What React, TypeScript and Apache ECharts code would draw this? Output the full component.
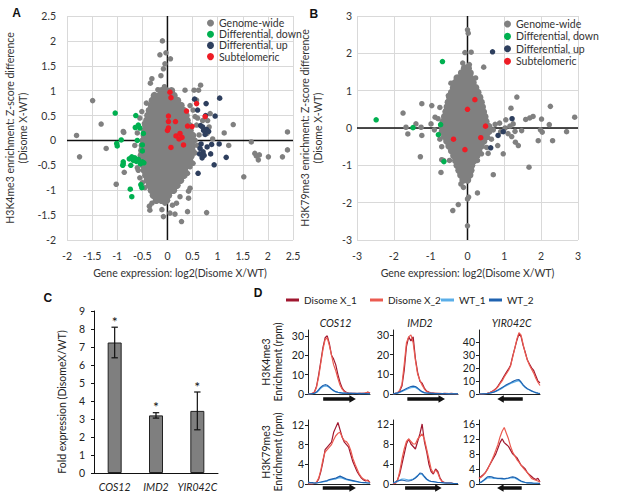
import React, { useEffect, useRef } from "react";
import * as echarts from "echarts";

const FONT = "Lato, 'Liberation Sans', sans-serif";

// ---------------- Panel A : H3K4me3 ----------------
const aXMin = -2;
const aXMax = 2.5;
const aYMin = -2;
const aYMax = 2.5;
// dense genome-wide core, one row per y level: [y, x values]
const aCoreRows: [number, number[]][] = [
  [1.0, [-0.12, -0.02, 0.08]],
  [0.9, [-0.26, -0.16, -0.06, 0.04, 0.13]],
  [0.8, [-0.3, -0.2, -0.1, 0, 0.1, 0.2]],
  [0.7, [-0.32, -0.22, -0.12, -0.02, 0.08, 0.18, 0.27]],
  [0.6, [-0.36, -0.26, -0.16, -0.06, 0.04, 0.14, 0.24, 0.32]],
  [0.5, [-0.39, -0.29, -0.19, -0.09, 0.01, 0.11, 0.21, 0.31, 0.37]],
  [0.4, [-0.41, -0.31, -0.21, -0.11, -0.01, 0.09, 0.19, 0.29, 0.39]],
  [0.3, [-0.43, -0.33, -0.23, -0.13, -0.03, 0.07, 0.17, 0.27, 0.37, 0.43]],
  [0.2, [-0.45, -0.35, -0.25, -0.15, -0.05, 0.05, 0.15, 0.25, 0.35, 0.45]],
  [0.1, [-0.46, -0.36, -0.26, -0.16, -0.06, 0.04, 0.14, 0.24, 0.34, 0.44, 0.5]],
  [0.0, [-0.48, -0.38, -0.28, -0.18, -0.08, 0.02, 0.12, 0.22, 0.32, 0.42, 0.51]],
  [-0.1, [-0.5, -0.4, -0.3, -0.2, -0.1, 0, 0.1, 0.2, 0.3, 0.4, 0.5]],
  [-0.2, [-0.51, -0.41, -0.31, -0.21, -0.11, -0.01, 0.09, 0.19, 0.29, 0.39, 0.49]],
  [-0.3, [-0.52, -0.42, -0.32, -0.22, -0.12, -0.02, 0.08, 0.18, 0.28, 0.38, 0.47]],
  [-0.4, [-0.51, -0.41, -0.31, -0.21, -0.11, -0.01, 0.09, 0.19, 0.29, 0.39, 0.44]],
  [-0.5, [-0.48, -0.38, -0.28, -0.18, -0.08, 0.02, 0.12, 0.22, 0.32, 0.4]],
  [-0.6, [-0.46, -0.36, -0.26, -0.16, -0.06, 0.04, 0.14, 0.24, 0.34]],
  [-0.7, [-0.43, -0.33, -0.23, -0.13, -0.03, 0.07, 0.17, 0.27, 0.33]],
  [-0.8, [-0.4, -0.3, -0.2, -0.1, 0, 0.1, 0.2, 0.26]],
  [-0.9, [-0.36, -0.26, -0.16, -0.06, 0.04, 0.14, 0.19]],
  [-1.0, [-0.32, -0.22, -0.12, -0.02, 0.08, 0.12]],
  [-1.1, [-0.28, -0.18, -0.08, 0.02]],
  [-1.2, [-0.22, -0.12, -0.02]],
];
const aGenomeOutliers: [number, number][] = [
  [-0.1, 2.0], [-0.15, 1.72], [-0.03, 1.76], [0.06, 1.64], [-0.05, 1.54], [-0.08, 1.44],
  [-0.31, 1.24], [-0.13, 1.3], [-0.34, 1.15], [-0.19, 1.02], [-0.06, 1.08], [0.35, 1.01],
  [0.53, 1.01], [0.62, 1.01], [0.66, 1.11], [-1.49, 0.8], [-1.32, 0.33], [-1.81, 0.1],
  [-1.75, -0.33], [-1.22, -0.16], [-1.02, -0.88], [-0.86, -0.64], [-0.87, 0.16], [-0.88, 0.18],
  [-0.46, 0.34], [-0.51, 0.58], [-0.28, -1.03], [-0.25, -1.1], [-0.31, -1.26], [-0.36, -1.32],
  [-0.35, -1.4], [-0.11, -1.39], [-0.08, -1.53], [0.05, -1.46], [0.15, -1.48], [0.25, -1.13],
  [0.28, -1.63], [0.4, -1.43], [0.42, -1.02], [-0.05, -1.26], [0.0, -1.2], [0.78, -1.45],
  [0.1, -1.3], [0.18, -1.26], [0.42, -1.16], [0.45, -0.96], [1.52, -0.73], [1.22, -0.1],
  [1.13, 0.15], [1.31, 0.32], [1.67, -0.03], [1.74, -0.26], [1.77, -0.31], [1.81, -0.39],
  [1.83, -0.29], [2.01, -0.33], [2.29, -0.33], [2.39, -0.19], [2.39, 0.17], [0.58, 0.81],
  [0.85, 0.54], [0.8, 0.4], [0.83, 0.27], [0.79, 0.14], [0.9, 0.03], [0.51, 0.61],
  [0.55, 0.48], [0.58, 0.31], [0.63, 0.11], [0.55, 0.0], [0.6, -0.1], [0.48, -0.33],
  [0.51, -0.46], [0.45, -0.53], [0.4, -0.66], [0.55, -0.25], [0.45, 0.7], [0.6, 0.45],
  [0.7, 0.4], [-0.6, 0.15], [-0.65, -0.1], [-0.58, -0.6], [-0.55, -0.75], [-0.6, -0.55],
  [-0.5, -0.85], [-0.45, -0.95], [-0.55, 0.45], [-0.42, 0.75],
];
const aDiffDown: [number, number][] = [
  [-1.04, 0.55], [-0.63, 0.5], [-0.64, 0.26], [-0.58, 0.31], [-0.55, 0.25], [-0.48, 0.14],
  [-0.92, 0.01], [-1.01, -0.06], [-1.0, -0.11], [-0.6, 0.0], [-0.5, -0.09], [-0.5, -0.21],
  [-0.71, -0.33], [-0.65, -0.35], [-0.58, -0.38], [-0.76, -0.37], [-0.88, -0.43], [-0.89, -0.5],
  [-0.54, -0.47], [-0.5, -0.43], [-0.73, -0.5], [-0.62, -0.42], [-0.68, -0.4], [-0.74, -0.98],
  [-0.53, -0.89], [-0.51, -0.95], [-0.71, -1.13], [-0.88, -0.47], [-0.47, -0.45],
];
const aDiffUp: [number, number][] = [
  [0.54, 0.83], [0.77, 0.74], [1.04, 0.85], [0.6, 0.61], [0.95, 0.49], [0.76, 0.5],
  [0.78, 0.22], [0.72, 0.2], [0.82, 0.18], [0.75, 0.12], [0.7, 0.27], [0.67, -0.07],
  [0.65, -0.16], [0.71, -0.23], [0.79, -0.13], [0.64, -0.27], [0.69, -0.35], [0.86, -0.27],
  [0.88, -0.08], [1.03, -0.07], [1.17, -0.34], [0.93, -0.49], [0.61, -0.66], [0.66, 0.3],
  [0.73, -0.3],
];
const aSubtelomeric: [number, number][] = [
  [0.05, 0.97], [0.07, 0.86], [0.58, 0.74], [0.38, 0.59], [0.75, 0.48], [0.02, 0.49],
  [0.02, 0.38], [0.16, 0.38], [0.0, 0.2], [0.02, 0.25], [0.4, 0.29], [0.49, 0.28],
  [0.17, 0.09], [0.25, 0.14], [0.29, 0.06], [0.32, -0.09], [0.07, -0.14], [0.23, 0.03],
];

// ---------------- Panel B : H3K79me3 ----------------
const bXMin = -3;
const bXMax = 3;
const bYMin = -3;
const bYMax = 3;
const bCoreRows: [number, number[]][] = [
  [1.6, [-0.08, 0.02]],
  [1.47, [-0.16, -0.04, 0.07]],
  [1.34, [-0.28, -0.16, -0.04, 0.08]],
  [1.21, [-0.33, -0.2, -0.07, 0.06, 0.15]],
  [1.08, [-0.38, -0.25, -0.12, 0.01, 0.14, 0.22]],
  [0.95, [-0.43, -0.3, -0.17, -0.04, 0.09, 0.22, 0.28]],
  [0.82, [-0.48, -0.35, -0.22, -0.09, 0.04, 0.17, 0.3, 0.33]],
  [0.69, [-0.52, -0.39, -0.26, -0.13, 0, 0.13, 0.26, 0.37]],
  [0.56, [-0.55, -0.42, -0.29, -0.16, -0.03, 0.1, 0.23, 0.36, 0.4]],
  [0.43, [-0.58, -0.45, -0.32, -0.19, -0.06, 0.07, 0.2, 0.33, 0.43]],
  [0.3, [-0.62, -0.49, -0.36, -0.23, -0.1, 0.03, 0.16, 0.29, 0.42, 0.47]],
  [0.17, [-0.66, -0.53, -0.4, -0.27, -0.14, -0.01, 0.12, 0.25, 0.38, 0.5]],
  [0.04, [-0.68, -0.55, -0.42, -0.29, -0.16, -0.03, 0.1, 0.23, 0.36, 0.49, 0.56]],
  [-0.09, [-0.68, -0.55, -0.42, -0.29, -0.16, -0.03, 0.1, 0.23, 0.36, 0.49, 0.58]],
  [-0.22, [-0.62, -0.49, -0.36, -0.23, -0.1, 0.03, 0.16, 0.29, 0.42, 0.5]],
  [-0.35, [-0.56, -0.43, -0.3, -0.17, -0.04, 0.09, 0.22, 0.35, 0.44]],
  [-0.48, [-0.5, -0.37, -0.24, -0.11, 0.02, 0.15, 0.28, 0.37]],
  [-0.61, [-0.43, -0.3, -0.17, -0.04, 0.09, 0.22, 0.3]],
  [-0.74, [-0.37, -0.24, -0.11, 0.02, 0.15, 0.25]],
  [-0.87, [-0.32, -0.19, -0.06, 0.07, 0.18]],
  [-1.0, [-0.28, -0.15, -0.02, 0.11]],
  [-1.13, [-0.23, -0.1, 0.03, 0.09]],
  [-1.26, [-0.18, -0.06, 0.06]],
  [-1.39, [-0.12, 0.0]],
];
const bGenomeOutliers: [number, number][] = [
  [0.0, 2.63], [0.02, 2.54], [-0.07, 2.02], [0.1, 2.03], [-0.13, 1.74], [-0.03, 1.63],
  [0.05, 1.7], [0.44, 1.63], [0.22, 1.34], [-0.45, 1.2], [-0.52, 0.87], [-1.24, 0.65],
  [-0.97, 0.6], [-1.75, 0.4], [-1.67, 0.02], [-1.62, -0.16], [-1.4, 0.11], [-1.26, 0.02],
  [-1.24, -0.2], [-1.28, -0.77], [-0.99, 0.11], [-0.88, 0.29], [-0.72, -1.19], [-0.65, -0.87],
  [-0.49, -0.87], [-0.4, -2.21], [-0.25, -2.05], [-0.18, -1.5], [-0.11, -1.59], [0.0, -1.9],
  [0.03, -1.85], [0.0, -2.62], [0.27, -1.74], [0.27, -0.87], [0.38, -0.69], [0.52, -0.52],
  [0.56, -0.68], [0.7, -1.25], [0.82, -0.47], [1.18, 0.53], [1.34, 0.83], [0.47, -0.07],
  [0.6, 0.05], [0.75, 0.1], [0.87, 0.13], [1.04, 0.22], [1.24, 0.11], [1.02, 0.0],
  [1.29, -0.09], [1.2, -0.23], [1.3, -0.38], [1.38, -0.47], [1.47, -0.07], [1.58, 0.23],
  [1.69, 0.27], [1.78, 0.31], [2.01, 0.24], [2.03, -0.11], [1.98, -0.05], [1.92, -0.34],
  [1.67, -1.05], [2.25, 0.58], [2.22, 0.09], [2.31, -0.34], [2.69, -0.1], [2.91, 0.29],
  [0.97, -0.69], [0.65, -0.3], [0.55, -0.25], [0.9, -0.1], [1.1, -0.15], [1.15, 0.05],
  [0.7, -0.05], [-0.8, 0.25], [-0.9, -0.05], [-0.75, -0.3], [-0.7, -0.5], [-0.7, -0.85],
  [-0.6, 0.45], [-0.75, 0.55],
];
const bDiffDown: [number, number][] = [
  [-2.48, 0.22], [-0.68, 1.78], [-1.48, 0.01], [-0.73, 0.09], [-0.79, -0.18], [-0.64, -0.9],
];
const bDiffUp: [number, number][] = [
  [0.68, 2.04], [1.21, 0.25], [0.83, -0.2], [0.97, -0.1], [0.63, -0.53],
];
const bSubtelomeric: [number, number][] = [
  [0.2, 0.76], [0.0, 0.5], [0.49, 0.05], [-0.38, -0.3], [0.36, -0.26], [-0.07, -0.58],
];

const scatterNames = ["Genome-wide", "Differential, down", "Differential, up", "Subtelomeric"];
const scatterColors = ["#808080", "#00b050", "#2e3f5e", "#ee1c25"];

// ---------------- Panel C ----------------
const cGenes = ["COS12", "IMD2", "YIR042C"];
const cFold = [7.25, 3.2, 3.45];
const cErrLow = [6.4, 3.05, 2.4];
const cErrHigh = [8.1, 3.35, 4.5];
const cSignif = ["*", "*", "*"];

// ---------------- Panel D ----------------
const dSeriesNames = ["Disome X_1", "Disome X_2", "WT_1", "WT_2"];
const dSeriesColors = ["#a0172f", "#eb5b50", "#5aaee8", "#1f62b0"];
const dGenes = ["COS12", "IMD2", "YIR042C"];

const cos12K4X1 = [0, 0, 0.3, 1, 4, 10, 17, 24, 29, 30, 26, 20, 18, 15, 10, 6, 3, 1.5, 0.8, 0.5, 0.4, 0.3, 0.3, 0.2, 0.3, 0.4, 0.3, 0.5, 1, 0.4];
const cos12K4X2 = [0, 0.1, 0.2, 0.8, 3.5, 9, 16, 23, 28, 29, 25, 20, 15, 12, 8, 4.5, 2.5, 1.2, 0.6, 0.4, 0.3, 0.2, 0.3, 0.3, 0.2, 0.3, 0.4, 0.6, 0.8, 0.3];
const cos12K4WT1 = [0, 0, 0.1, 0.3, 0.8, 1.8, 3, 3.8, 4.2, 4, 3.3, 2.4, 1.6, 1.1, 0.8, 0.6, 0.5, 0.4, 0.4, 0.3, 0.3, 0.2, 0.3, 0.3, 0.2, 0.2, 0.3, 0.2, 0.2, 0.1];
const cos12K4WT2 = [0, 0, 0.2, 0.4, 1, 2.2, 3.5, 4.4, 4.8, 4.5, 3.6, 2.6, 1.8, 1.2, 0.9, 0.7, 0.5, 0.5, 0.4, 0.3, 0.3, 0.3, 0.2, 0.2, 0.3, 0.2, 0.2, 0.2, 0.1, 0.1];

const imd2K4X1 = [0, 0.3, 0.5, 1.5, 4, 12, 24, 29, 27, 29, 18, 11, 6.5, 5.5, 3, 1.5, 1, 0.6, 0.4, 0.3, 0.3, 0.2, 0.2, 0.3, 0.2, 0.2, 0.3, 0.2, 0.2, 0.1];
const imd2K4X2 = [0, 0.2, 0.6, 2, 5, 15, 26, 29, 30, 26, 17, 10, 7, 4.5, 2.5, 1.2, 0.8, 0.5, 0.4, 0.3, 0.2, 0.3, 0.2, 0.2, 0.3, 0.2, 0.2, 0.2, 0.1, 0.1];
const imd2K4WT1 = [0, 0.2, 0.4, 0.8, 1.3, 1.8, 2.3, 2.8, 3.2, 3.4, 3.3, 2.6, 1.7, 1, 0.6, 0.4, 0.3, 0.3, 0.2, 0.2, 0.2, 0.2, 0.1, 0.2, 0.2, 0.1, 0.1, 0.1, 0.1, 0.1];
const imd2K4WT2 = [0, 0.3, 0.6, 1, 1.6, 2.2, 2.8, 3.3, 3.8, 4, 3.8, 3, 2, 1.2, 0.7, 0.5, 0.4, 0.3, 0.3, 0.2, 0.2, 0.2, 0.2, 0.2, 0.1, 0.1, 0.1, 0.1, 0.1, 0.1];

const yirK4X1 = [0, 0, 0.1, 0.3, 0.6, 1, 1.8, 2.8, 4, 6, 8.5, 11, 14, 16.5, 19, 22, 29, 35, 41, 46, 44, 37, 32, 26, 23, 20, 18, 14, 10, 8.5];
const yirK4X2 = [0, 0, 0.1, 0.2, 0.5, 1, 1.6, 2.5, 3.8, 5.5, 8, 10, 13, 15.5, 18, 21.5, 28, 35, 42, 47, 45, 38, 31, 26, 22, 19, 16, 12, 9, 6.5];
const yirK4WT1 = [0, 0, 0.1, 0.2, 0.4, 0.7, 1, 1.5, 2, 2.8, 3.5, 4.5, 5.5, 6.3, 7.2, 8, 8.7, 9.3, 9.8, 10.2, 8.5, 6.5, 5, 3.8, 3, 2.2, 1.5, 1, 0.6, 0.3];
const yirK4WT2 = [0, 0, 0.1, 0.2, 0.3, 0.6, 1, 1.4, 2.2, 3, 4, 5, 6, 7, 7.8, 8.6, 9.5, 10.3, 10.8, 11, 9.2, 7, 5.3, 4, 3.2, 2.4, 1.7, 1.1, 0.7, 0.4];

const cos12K79X1 = [0, 0, 0, 0.1, 0.3, 1, 2.5, 4.5, 7, 7.5, 8, 8.5, 10.5, 11.5, 12.5, 11, 9.5, 8.5, 8, 7.5, 6, 4.5, 3.5, 2.5, 1.8, 1.2, 0.8, 0.6, 0.8, 0.3];
const cos12K79X2 = [0, 0, 0, 0.1, 0.4, 1.2, 2.8, 5, 6.5, 7, 7.5, 8, 9, 9.8, 10.3, 10.5, 9.5, 8.8, 8.6, 8, 6.8, 5.2, 4, 3, 2, 1.4, 1, 0.8, 0.6, 0.3];
const cos12K79WT1 = [0.3, 0.2, 0.2, 0.2, 0.2, 0.3, 0.3, 0.4, 0.5, 0.6, 0.8, 0.9, 1, 1, 1.2, 1.3, 1.2, 1, 0.9, 0.8, 0.7, 0.6, 0.5, 0.4, 0.3, 0.3, 0.2, 0.2, 0.2, 0.2];
const cos12K79WT2 = [0.4, 0.3, 0.3, 0.2, 0.2, 0.3, 0.4, 0.5, 0.6, 0.7, 0.9, 1, 1.1, 1.2, 1.4, 1.6, 1.4, 1.2, 1, 0.9, 0.8, 0.7, 0.6, 0.5, 0.4, 0.3, 0.3, 0.3, 0.2, 0.2];

const imd2K79X1 = [0, 0.2, 0.8, 2, 4, 6, 8, 9, 8, 7.5, 7, 8.5, 10, 12, 8.5, 6.5, 4, 2.5, 2, 3, 2.5, 1.2, 0.5, 0.3, 0.2, 0.2, 0.2, 0.1, 0.1, 0.1];
const imd2K79X2 = [0, 0.1, 0.6, 2.5, 5, 7, 8.5, 9, 8.5, 8, 8, 9, 9.5, 10, 9, 7, 5, 3, 2.2, 2.8, 2.2, 1, 0.4, 0.3, 0.2, 0.2, 0.1, 0.1, 0.1, 0.1];
const imd2K79WT1 = [0.2, 0.3, 0.5, 0.8, 1, 1, 0.9, 0.8, 0.9, 1, 1.3, 1.7, 2, 1.9, 1.4, 0.9, 0.6, 0.5, 0.4, 0.4, 0.3, 0.3, 0.2, 0.2, 0.2, 0.2, 0.1, 0.1, 0.1, 0.1];
const imd2K79WT2 = [0.3, 0.4, 0.6, 0.7, 0.8, 0.7, 0.6, 0.6, 0.7, 0.9, 1.2, 1.6, 2.2, 2.1, 1.5, 1, 0.7, 0.5, 0.5, 0.4, 0.3, 0.3, 0.3, 0.2, 0.2, 0.2, 0.2, 0.1, 0.1, 0.1];

const yirK79X1 = [1.5, 2, 2.5, 3, 4, 5, 6, 7, 8, 9.5, 11, 12, 11, 10.5, 10, 9, 8, 7.5, 7, 6, 5, 4.5, 4, 3, 2.5, 2, 1.5, 1.2, 1.5, 0.6];
const yirK79X2 = [1.5, 1.8, 2.3, 3, 3.8, 5, 6.2, 7.5, 9, 10.5, 12.5, 14, 15, 13.5, 12, 10, 8.5, 7.5, 6.5, 5.8, 5, 4.3, 3.6, 3, 2.2, 1.5, 1.2, 1, 0.8, 0.5];
const yirK79WT1 = [0.3, 0.4, 0.8, 1.2, 1.6, 1.7, 1.6, 1.5, 1.5, 1.4, 1.4, 1.3, 1.3, 1.4, 1.5, 1.6, 1.7, 1.6, 1.3, 1, 0.7, 0.5, 0.4, 0.3, 0.3, 0.2, 0.2, 0.2, 0.2, 0.1];
const yirK79WT2 = [0.4, 0.5, 0.9, 1.4, 1.9, 2, 1.9, 1.7, 1.6, 1.5, 1.5, 1.5, 1.4, 1.5, 1.6, 1.8, 1.9, 1.8, 1.5, 1.1, 0.8, 0.6, 0.4, 0.3, 0.3, 0.3, 0.2, 0.2, 0.2, 0.1];

// y-axis maxima and tick values per subplot (top row H3K4me3, bottom row H3K79me3)
const dK4Max = [33, 32.5, 49];
const dK4Ticks = [[0, 10, 20, 30], [0, 10, 20, 30], [0, 10, 20, 30, 40]];
const dK79Max = [13, 12.8, 17];
const dK79Ticks = [[0, 4, 8, 12], [0, 4, 8, 12], [0, 4, 8, 12, 16]];
// gene body arrows in bin units: [tail, head]
const dK4Arrows = [[7.1, 22.4], [6.4, 23.2], [20.8, 8.7]];
const dK79Arrows = [[6.9, 22.4], [5.4, 21.7], [20.3, 8.6]];

const dK4Tracks = [
  [cos12K4X1, cos12K4X2, cos12K4WT1, cos12K4WT2],
  [imd2K4X1, imd2K4X2, imd2K4WT1, imd2K4WT2],
  [yirK4X1, yirK4X2, yirK4WT1, yirK4WT2],
];
const dK79Tracks = [
  [cos12K79X1, cos12K79X2, cos12K79WT1, cos12K79WT2],
  [imd2K79X1, imd2K79X2, imd2K79WT1, imd2K79WT2],
  [yirK79X1, yirK79X2, yirK79WT1, yirK79WT2],
];

// ---------------- layout ----------------
const dCols = [
  { left: 308, width: 62 },
  { left: 393, width: 65 },
  { left: 479, width: 61 },
];
const dRows = [
  { top: 330, height: 64, arrowOffset: 5 },
  { top: 420, height: 64, arrowOffset: 4 },
];

const flattenRows = (rows: [number, number[]][]) =>
  rows.flatMap(([y, xs]) => xs.map((x) => [x, y]));

function buildOption() {
  const grids: any[] = [
    { left: 67, top: 16, width: 226, height: 224 },
    { left: 357, top: 16, width: 221, height: 224 },
    { left: 94, top: 311, width: 124, height: 162 },
  ];
  const xAxes: any[] = [];
  const yAxes: any[] = [];
  const series: any[] = [];

  const axisText = { fontSize: 10.5, color: "#333" };
  const split = { show: true, lineStyle: { color: "#d9d9d9", width: 1 } };

  // A axes
  xAxes.push({
    gridIndex: 0, type: "value", min: aXMin, max: aXMax, interval: 0.5,
    axisLine: { show: false }, axisTick: { show: false }, splitLine: split,
    axisLabel: { ...axisText, margin: 10 },
    name: "Gene expression: log2(Disome X/WT)", nameLocation: "middle", nameGap: 27,
    nameTextStyle: { fontSize: 10.5, color: "#333" },
  });
  yAxes.push({
    gridIndex: 0, type: "value", min: aYMin, max: aYMax, interval: 0.5,
    axisLine: { show: false }, axisTick: { show: false }, splitLine: split,
    axisLabel: { ...axisText, margin: 11 },
    name: "H3K4me3 enrichment: Z-score difference\n(Disome X-WT)", nameLocation: "middle", nameGap: 38,
    nameTextStyle: { fontSize: 10.5, color: "#333", lineHeight: 13 },
  });
  // B axes
  xAxes.push({
    gridIndex: 1, type: "value", min: bXMin, max: bXMax, interval: 1,
    axisLine: { show: false }, axisTick: { show: false }, splitLine: split,
    axisLabel: { ...axisText, margin: 10 },
    name: "Gene expression: log2(Disome X/WT)", nameLocation: "middle", nameGap: 27,
    nameTextStyle: { fontSize: 10.5, color: "#333" },
  });
  yAxes.push({
    gridIndex: 1, type: "value", min: bYMin, max: bYMax, interval: 1,
    axisLine: { show: false }, axisTick: { show: false }, splitLine: split,
    axisLabel: { ...axisText, margin: 5 },
    name: "H3K79me3 enrichment: Z-score difference\n(Disome X-WT)", nameLocation: "middle", nameGap: 33,
    nameTextStyle: { fontSize: 10.5, color: "#333", lineHeight: 13 },
  });
  // C axes
  xAxes.push({
    gridIndex: 2, type: "category", data: cGenes,
    axisLine: { show: true, lineStyle: { color: "#111" } }, axisTick: { show: false },
    axisLabel: { interval: 0, fontSize: 10.5, fontStyle: "italic", color: "#222", margin: 8 },
    splitLine: { show: false },
  });
  yAxes.push({
    gridIndex: 2, type: "value", min: 0, max: 9, interval: 1,
    axisLine: { show: true, lineStyle: { color: "#111" } },
    axisTick: { show: true, length: 3, lineStyle: { color: "#111" } },
    axisLabel: { fontSize: 10.5, color: "#222", margin: 9 },
    splitLine: { show: false },
    name: "Fold expression (DisomeX/WT)", nameLocation: "middle", nameGap: 27,
    nameTextStyle: { fontSize: 10.5, color: "#222", padding: [0, 20, 0, 0] },
  });

  // A & B series
  const zeroLine = (gi: number, data: number[][]) => ({
    type: "line", xAxisIndex: gi, yAxisIndex: gi, data, symbol: "none", silent: true, z: 1,
    lineStyle: { color: "#111", width: 1.5 },
  });
  series.push(zeroLine(0, [[0, aYMin], [0, aYMax]]), zeroLine(0, [[aXMin, 0], [aXMax, 0]]));
  series.push(zeroLine(1, [[0, bYMin], [0, bYMax]]), zeroLine(1, [[bXMin, 0], [bXMax, 0]]));
  const scat = (gi: number, k: number, data: number[][], size = 5.5) => ({
    name: scatterNames[k], type: "scatter", xAxisIndex: gi, yAxisIndex: gi, data,
    symbol: "circle", symbolSize: size, itemStyle: { color: scatterColors[k], opacity: 1 },
    silent: true, z: k === 0 ? 2 : 3,
  });
  series.push(
    scat(0, 0, aGenomeOutliers),
    scat(0, 0, flattenRows(aCoreRows), 7.5),
    scat(0, 1, aDiffDown), scat(0, 2, aDiffUp), scat(0, 3, aSubtelomeric),
    scat(1, 0, bGenomeOutliers),
    scat(1, 0, flattenRows(bCoreRows), 7.5),
    scat(1, 1, bDiffDown), scat(1, 2, bDiffUp), scat(1, 3, bSubtelomeric),
  );

  // C series
  series.push({
    type: "bar", xAxisIndex: 2, yAxisIndex: 2, data: cFold, barWidth: 14, silent: true,
    itemStyle: { color: "#7f7f7f", borderColor: "#222", borderWidth: 1 }, z: 2,
  });
  series.push({
    type: "custom", xAxisIndex: 2, yAxisIndex: 2, silent: true, clip: false, z: 3,
    data: cGenes.map((_, i) => [i, cErrLow[i], cErrHigh[i]]),
    encode: { x: 0, y: [1, 2] },
    renderItem: (params: any, api: any) => {
      const lo = api.coord([api.value(0), api.value(1)]);
      const hi = api.coord([api.value(0), api.value(2)]);
      const x = lo[0];
      const st = { stroke: "#111", lineWidth: 1.2 };
      return {
        type: "group",
        children: [
          { type: "line", shape: { x1: x, y1: lo[1], x2: x, y2: hi[1] }, style: st },
          { type: "line", shape: { x1: x - 3.2, y1: lo[1], x2: x + 3.2, y2: lo[1] }, style: st },
          { type: "line", shape: { x1: x - 3.2, y1: hi[1], x2: x + 3.2, y2: hi[1] }, style: st },
          {
            type: "text", x, y: hi[1] - 6,
            style: { text: cSignif[params.dataIndex], fill: "#111", stroke: "none", fontSize: 14, fontFamily: FONT, align: "center", verticalAlign: "middle" },
          },
        ],
      };
    },
  });

  // D subplots
  const graphics: any[] = [];
  dRows.forEach((row, r) => {
    dCols.forEach((col, c) => {
      const gi = grids.length;
      grids.push({ left: col.left, top: row.top, width: col.width, height: row.height });
      const tracks = r === 0 ? dK4Tracks[c] : dK79Tracks[c];
      const maxV = r === 0 ? dK4Max[c] : dK79Max[c];
      const ticks = r === 0 ? dK4Ticks[c] : dK79Ticks[c];
      const arrow = r === 0 ? dK4Arrows[c] : dK79Arrows[c];
      xAxes.push({
        gridIndex: gi, type: "value", min: 0, max: tracks[0].length - 1,
        axisLine: { show: true, onZero: false, lineStyle: { color: "#222", width: 1 } },
        axisTick: { show: false }, axisLabel: { show: false }, splitLine: { show: false },
      });
      const yAx: any = {
        gridIndex: gi, type: "value", min: 0, max: maxV,
        axisLine: { show: true, lineStyle: { color: "#222", width: 1 } },
        axisTick: { show: true, length: 3, customValues: ticks, lineStyle: { color: "#222" } },
        axisLabel: { fontSize: 10.5, color: "#222", margin: 4, customValues: ticks },
        splitLine: { show: false },
      };
      if (c === 0) {
        yAx.name = (r === 0 ? "H3K4me3" : "H3K79me3") + "\nEnrichment (rpm)";
        yAx.nameLocation = "middle";
        yAx.nameGap = 24;
        yAx.nameTextStyle = { fontSize: 10.5, color: "#222", lineHeight: 12 };
      }
      yAxes.push(yAx);
      tracks.forEach((vals, k) => {
        series.push({
          name: dSeriesNames[k], type: "line", xAxisIndex: gi, yAxisIndex: gi,
          data: vals.map((v, i) => [i, v]), symbol: "none", silent: true,
          lineStyle: { color: dSeriesColors[k], width: 1.2 }, itemStyle: { color: dSeriesColors[k] },
          z: 2,
        });
      });
      const off = row.arrowOffset;
      series.push({
        type: "custom", xAxisIndex: gi, yAxisIndex: gi, silent: true, clip: false, z: 4,
        data: [arrow],
        renderItem: (params: any, api: any) => {
          const t = api.coord([api.value(0), 0]);
          const h = api.coord([api.value(1), 0]);
          const y = t[1] + off;
          const dir = h[0] > t[0] ? 1 : -1;
          const bx = h[0] - dir * 6.5;
          const sh = 1.7;
          const hh = 3.8;
          return {
            type: "polygon",
            shape: {
              points: [[t[0], y - sh], [bx, y - sh], [bx, y - hh], [h[0], y], [bx, y + hh], [bx, y + sh], [t[0], y + sh]],
            },
            style: { fill: "#111" },
          };
        },
      });
    });
  });

  // titles of D columns
  const dTitleX = [335.5, 420, 511.7];
  dGenes.forEach((g, i) =>
    graphics.push({
      type: "text", x: dTitleX[i], y: 322.5, silent: true,
      style: { text: g, fontSize: 10.5, fontStyle: "italic", fontFamily: FONT, fill: "#222", align: "center", verticalAlign: "middle" },
    })
  );
  // panel letters
  const letters: [string, number, number][] = [
    ["A", 16.7, 13.3], ["B", 313.8, 13.5], ["C", 47.8, 297.5], ["D", 258, 293],
  ];
  letters.forEach(([t, x, y]) =>
    graphics.push({
      type: "text", x, y, silent: true,
      style: { text: t, fontSize: 12, fontWeight: "bold", fontFamily: "'Liberation Sans', Arial, sans-serif", fill: "#111", align: "center", verticalAlign: "middle" },
    })
  );

  const scatterLegend = (left: number, top: number, gap: number) => ({
    left, top, orient: "vertical", padding: 0, itemGap: gap, itemWidth: 7, itemHeight: 7,
    icon: "circle", selectedMode: false,
    textStyle: { fontSize: 10.5, lineHeight: 11, color: "#333" },
    data: scatterNames,
  });
  const dLegendLeft = [286, 370, 441, 489];
  const legends: any[] = [
    scatterLegend(207, 17.5, 0.2),
    scatterLegend(504, 18.5, 1.4),
    ...dSeriesNames.map((n, i) => ({
      left: dLegendLeft[i], top: 294, padding: 0, selectedMode: false,
      itemWidth: 13, itemHeight: 3, icon: "rect",
      textStyle: { fontSize: 10, lineHeight: 12, color: "#222" },
      data: [n],
    })),
  ];

  return {
    animation: false,
    backgroundColor: "#ffffff",
    textStyle: { fontFamily: FONT, color: "#333" },
    grid: grids.map((g) => ({ ...g, containLabel: false, outerBoundsMode: "none" })),
    xAxis: xAxes,
    yAxis: yAxes,
    legend: legends,
    graphic: graphics,
    series,
  };
}

export default function App() {
  const ref = useRef<HTMLDivElement>(null);
  useEffect(() => {
    document.body.style.margin = "0";
    const chart = echarts.init(ref.current as HTMLDivElement, null, { renderer: "svg" });
    chart.setOption(buildOption() as any);
    return () => chart.dispose();
  }, []);
  return <div ref={ref} style={{ width: 617, height: 494 }} />;
}
